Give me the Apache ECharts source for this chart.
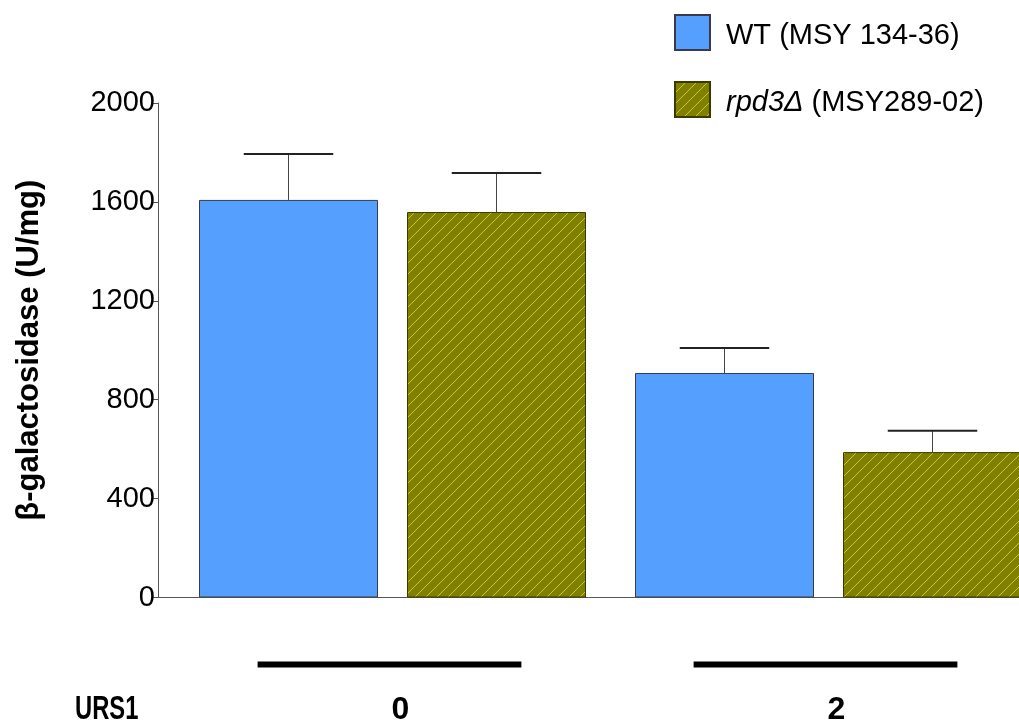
<!DOCTYPE html>
<html>
<head>
<meta charset="utf-8">
<script src="https://cdn.jsdelivr.net/npm/echarts@6/dist/echarts.min.js"></script>
<style>
html,body{margin:0;padding:0;background:#fff;}
#chart{width:1019px;height:727px;}
</style>
</head>
<body>
<div id="chart"></div>
<script>
// ---- data ----
const categories = ['0', '2'];
const seriesNames = ['WT (MSY 134-36)', 'rpd3Δ (MSY289-02)'];
const wtValues = [1608, 908];
const wtErrors = [186, 101];
const rpdValues = [1559, 588];
const rpdErrors = [158, 86];
const yTicks = [0, 400, 800, 1200, 1600, 2000];
const yAxisName = 'β-galactosidase (U/mg)';
const rowLabel = 'URS1';

// ---- style ----
const FONT = '"Liberation Sans", Arial, sans-serif';
const BAR_W = 179;
const BAR_GAP_PX = 29;
const BLUE = '#559fff';

// hatch pattern (olive with yellow diagonal lines)
const tile = document.createElement('canvas');
const S = 11;
tile.width = S; tile.height = S;
const tc = tile.getContext('2d');
tc.fillStyle = '#808000';
tc.fillRect(0, 0, S, S);
tc.strokeStyle = '#cccc00';
tc.lineWidth = 1;
for (const x0 of [0, S, 2 * S]) {
  tc.beginPath();
  tc.moveTo(x0 - S, S);
  tc.lineTo(x0, 0);
  tc.stroke();
}
const hatch = { image: tile, repeat: 'repeat' };

function errorSeries(vals, errs, dir) {
  return {
    type: 'custom',
    xAxisIndex: 0, yAxisIndex: 0,
    silent: true,
    z: 5,
    clip: false,
    data: vals.map((v, i) => [i, v, errs[i]]),
    renderItem: function (params, api) {
      const i = api.value(0), v = api.value(1), e = api.value(2);
      const base = api.coord([i, v]);
      const top = api.coord([i, v + e]);
      const x = base[0] + dir * (BAR_W + BAR_GAP_PX) / 2;
      const half = BAR_W / 4;
      return {
        type: 'group',
        children: [
          { type: 'line', shape: { x1: x, y1: base[1], x2: x, y2: top[1] },
            style: { stroke: '#444', lineWidth: 1 } },
          { type: 'line', shape: { x1: x - half, y1: top[1], x2: x + half, y2: top[1] },
            style: { stroke: '#222', lineWidth: 2 } }
        ]
      };
    }
  };
}

function bottomLines() {
  return {
    type: 'custom',
    xAxisIndex: 0, yAxisIndex: 0,
    silent: true,
    clip: false,
    data: categories.map((c, i) => [i, 0]),
    renderItem: function (params, api) {
      const p = api.coord([api.value(0), 0]);
      const w = api.size([1, 0])[0] * 0.605;
      return {
        type: 'rect',
        shape: { x: p[0] - w / 2 - 3, y: p[1] + 64, width: w, height: 6 },
        style: { fill: '#000' }
      };
    }
  };
}

const chart = echarts.init(document.getElementById('chart'), null, { renderer: 'canvas' });
chart.setOption({
  animation: false,
  backgroundColor: '#fff',
  textStyle: { fontFamily: FONT },
  grid: [
    { left: 174.5, width: 872, top: 103, bottom: 129.5, containLabel: false, outerBoundsMode: 'none' },
    { left: 158, right: 0, top: 103, bottom: 129.5, containLabel: false, outerBoundsMode: 'none' }
  ],
  legend: {
    orient: 'vertical',
    left: 669, top: 9,
    itemWidth: 35, itemHeight: 35, itemGap: 30,
    selectedMode: false,
    icon: 'rect',
    data: seriesNames,
    formatter: function (name) {
      if (name.indexOf('rpd3Δ') === 0) return '{i|rpd3Δ}' + name.slice(5);
      return name;
    },
    textStyle: {
      fontFamily: FONT, fontSize: 29, color: '#000', padding: [6, 0, 0, 11],
      rich: { i: { fontStyle: 'italic', fontFamily: FONT, fontSize: 29, color: '#000' } }
    }
  },
  xAxis: [
    {
      type: 'category', gridIndex: 0, data: categories,
      axisLine: { show: false }, axisTick: { show: false },
      axisLabel: { show: true, margin: 97, fontFamily: FONT, fontWeight: 'bold', fontSize: 32, color: '#000',
        padding: [0, 0, 0, 16] }
    },
    {
      type: 'value', gridIndex: 1, min: 0, max: 1,
      axisLine: { show: true, lineStyle: { color: '#555', width: 1 } },
      axisTick: { show: false }, axisLabel: { show: false }, splitLine: { show: false }
    }
  ],
  yAxis: [
    {
      type: 'value', gridIndex: 0, min: 0, max: 2000, interval: 400,
      show: false, splitLine: { show: false }
    },
    {
      type: 'value', gridIndex: 1, min: yTicks[0], max: yTicks[yTicks.length - 1], interval: 400,
      axisLine: { show: true, lineStyle: { color: '#555', width: 1 } },
      axisTick: { show: true, length: 7, lineStyle: { color: '#555' } },
      axisLabel: { fontFamily: FONT, fontSize: 29, color: '#000', margin: 3,
        formatter: function (v) { return String(v); } },
      splitLine: { show: false },
      name: yAxisName,
      nameLocation: 'middle',
      nameGap: 113,
      nameRotate: 90,
      nameTextStyle: { fontFamily: FONT, fontWeight: 'bold', fontSize: 31, color: '#000' }
    }
  ],
  graphic: [
    { type: 'text', left: 75, top: 693, scaleX: 0.72,
      style: { text: rowLabel, font: 'bold 33px ' + FONT, fill: '#000' } }
  ],
  series: [
    {
      name: seriesNames[0], type: 'bar', xAxisIndex: 0, yAxisIndex: 0,
      data: wtValues, barWidth: BAR_W, barGap: (BAR_GAP_PX / BAR_W * 100) + '%',
      itemStyle: { color: BLUE, borderColor: '#3a3a4a', borderWidth: 1 }
    },
    {
      name: seriesNames[1], type: 'bar', xAxisIndex: 0, yAxisIndex: 0,
      data: rpdValues, barWidth: BAR_W,
      itemStyle: { color: hatch, borderColor: '#3a3a00', borderWidth: 1 }
    },
    errorSeries(wtValues, wtErrors, -1),
    errorSeries(rpdValues, rpdErrors, 1),
    bottomLines()
  ]
});
</script>
</body>
</html>
